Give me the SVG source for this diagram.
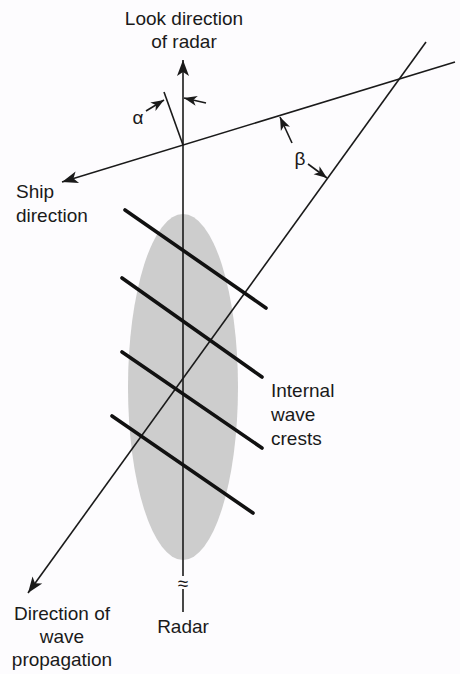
<svg xmlns="http://www.w3.org/2000/svg" width="460" height="674" viewBox="0 0 460 674">
<style>
.t{font-family:"Liberation Sans",Arial,sans-serif;font-size:19px;fill:#1a1a1a}
.ln{stroke:#1a1a1a;stroke-width:1.6;fill:none}
.cr{stroke:#111;stroke-width:3.6;stroke-linecap:round;fill:none}
</style>
<defs>
<marker id="ah" markerWidth="20" markerHeight="14" refX="16" refY="6" orient="auto" markerUnits="userSpaceOnUse" overflow="visible">
<path d="M16,6 L0,0 L4,6 L0,12 z" fill="#1a1a1a"/>
</marker>
<marker id="sh" markerWidth="16" markerHeight="12" refX="13" refY="5" orient="auto" markerUnits="userSpaceOnUse" overflow="visible">
<path d="M13,5 L0,0 L3.5,5 L0,10 z" fill="#1a1a1a"/>
</marker>
</defs>
<rect width="460" height="674" fill="#fdfcfe"/>
<g id="footprint">
<ellipse cx="183" cy="387" rx="55" ry="173" fill="#cdcdcd"/>
</g>
<g id="connectors">
<line id="look" class="ln" x1="183" y1="576" x2="183" y2="60" marker-end="url(#ah)"/>
<line class="ln" x1="183" y1="589" x2="183" y2="612"/>
<line id="ship" class="ln" x1="455" y1="62" x2="62" y2="182" marker-end="url(#ah)"/>
<line id="wave" class="ln" x1="426" y1="42" x2="28" y2="593" marker-end="url(#ah)"/>
<line id="perp" class="ln" x1="183" y1="145" x2="164" y2="92"/>
<line class="ln" x1="146" y1="111" x2="164" y2="100" marker-end="url(#sh)"/>
<line class="ln" x1="206" y1="103" x2="184" y2="98" marker-end="url(#sh)"/>
<line class="ln" x1="292" y1="143" x2="280" y2="117" marker-end="url(#sh)"/>
<line class="ln" x1="308" y1="164" x2="327" y2="178" marker-end="url(#sh)"/>
</g>
<g id="crests">
<line class="cr" x1="125" y1="210" x2="266" y2="308"/>
<line class="cr" x1="122" y1="278" x2="262" y2="377"/>
<line class="cr" x1="122" y1="352" x2="262" y2="448"/>
<line class="cr" x1="112" y1="416" x2="253" y2="513"/>
</g>
<g id="labels">
<text class="t" x="184" y="25" text-anchor="middle">Look direction</text>
<text class="t" x="184" y="48" text-anchor="middle">of radar</text>
<text class="t" x="138" y="124" text-anchor="middle" font-size="21">α</text>
<text class="t" x="300" y="165" text-anchor="middle" font-size="20">β</text>
<text class="t" x="16" y="198">Ship</text>
<text class="t" x="16" y="222">direction</text>
<text class="t" x="271" y="397">Internal</text>
<text class="t" x="271" y="421">wave</text>
<text class="t" x="271" y="445">crests</text>
<text class="t" x="183" y="590" text-anchor="middle" font-size="20">≈</text>
<text class="t" x="183" y="633" text-anchor="middle">Radar</text>
<text class="t" x="62" y="620" text-anchor="middle">Direction of</text>
<text class="t" x="62" y="643" text-anchor="middle">wave</text>
<text class="t" x="62" y="666" text-anchor="middle">propagation</text>
</g>
</svg>
